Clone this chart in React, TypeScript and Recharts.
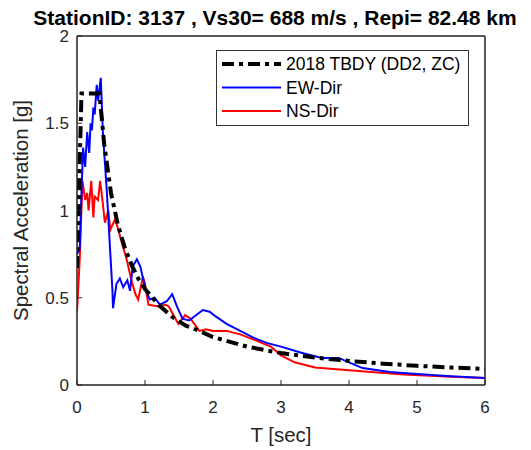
import { CartesianGrid, Line, LineChart, ReferenceArea, XAxis, YAxis } from "recharts";

const title = "StationID: 3137 , Vs30= 688 m/s , Repi= 82.48 km";
const xTicks = [0, 1, 2, 3, 4, 5, 6];
const yTicks = [0, 0.5, 1, 1.5, 2];

// 2018 TBDY (DD2, ZC) design spectrum
const tbdyT = [0, 0.066, 0.33, 0.4, 0.5, 0.6, 0.7, 0.8, 0.9, 1.0, 1.2, 1.4, 1.6, 1.8, 2.0, 2.5, 3.0, 3.5, 4.0, 4.5, 5.0, 5.5, 6.0];
const tbdySa = [0.67, 1.67, 1.67, 1.38, 1.1, 0.92, 0.79, 0.69, 0.61, 0.55, 0.46, 0.39, 0.34, 0.31, 0.275, 0.22, 0.183, 0.157, 0.138, 0.122, 0.11, 0.1, 0.092];

const ewT = [0, 0.04, 0.07, 0.09, 0.12, 0.15, 0.18, 0.2, 0.22, 0.24, 0.26, 0.29, 0.31, 0.35, 0.38, 0.44, 0.48, 0.52, 0.53, 0.58, 0.63, 0.68, 0.74, 0.78, 0.82, 0.88, 0.93, 1.0, 1.07, 1.14, 1.22, 1.32, 1.4, 1.47, 1.55, 1.65, 1.75, 1.85, 1.95, 2.05, 2.2, 2.4, 2.6, 2.8, 3.0, 3.3, 3.6, 3.85, 4.0, 4.2, 4.6, 5.0, 5.5, 6.0];
const ewSa = [0.75, 0.78, 1.15, 1.36, 1.25, 1.45, 1.33, 1.5, 1.46, 1.59, 1.55, 1.72, 1.63, 1.76, 1.45, 1.1, 0.82, 0.55, 0.44, 0.58, 0.61, 0.56, 0.6, 0.54, 0.68, 0.72, 0.68, 0.56, 0.49, 0.5, 0.46, 0.48, 0.52, 0.45, 0.38, 0.37, 0.4, 0.43, 0.42, 0.39, 0.35, 0.31, 0.27, 0.24, 0.22, 0.185, 0.155, 0.155, 0.13, 0.097, 0.075, 0.063, 0.05, 0.04];

const nsT = [0, 0.04, 0.08, 0.12, 0.15, 0.17, 0.21, 0.24, 0.26, 0.31, 0.34, 0.38, 0.41, 0.46, 0.49, 0.56, 0.6, 0.67, 0.73, 0.8, 0.86, 0.9, 0.97, 1.0, 1.05, 1.2, 1.3, 1.35, 1.42, 1.49, 1.59, 1.67, 1.8, 1.9, 2.0, 2.2, 2.4, 2.6, 2.85, 3.0, 3.2, 3.5, 4.0, 4.8, 5.5, 6.0];
const nsSa = [0.42, 0.72, 1.17, 1.06, 1.1, 1.0, 1.17, 0.96, 1.08, 1.06, 1.17, 1.04, 0.93, 1.0, 0.89, 0.95, 0.9, 0.8, 0.72, 0.6, 0.52, 0.49, 0.62, 0.58, 0.46, 0.45, 0.46, 0.45, 0.4, 0.35, 0.4, 0.38, 0.31, 0.32, 0.31, 0.31, 0.29, 0.26, 0.22, 0.17, 0.13, 0.1, 0.085, 0.06, 0.047, 0.04];

const toRows = (t: number[], sa: number[]) => t.map((T, i) => ({ T, Sa: sa[i] }));

const font = "'Liberation Sans', Arial, sans-serif";
const ink = "#262626";
const DASH = "12 5 4 5";

function LegendBox() {
    const items = [
        { name: "2018 TBDY (DD2, ZC)", color: "#000", width: 4, dash: DASH },
        { name: "EW-Dir", color: "#0000ff", width: 2, dash: undefined },
        { name: "NS-Dir", color: "#ff0000", width: 2, dash: undefined },
    ];
    return (
        <svg width={254} height={77} style={{ position: "absolute", left: 216, top: 50 }}>
            <rect x={0.5} y={0.5} width={252} height={75} fill="#fff" stroke="#333" strokeWidth={1} />
            {items.map((it, i) => (
                <g key={it.name}>
                    <line x1={6} x2={65} y1={14 + i * 23.5} y2={14 + i * 23.5} stroke={it.color} strokeWidth={it.width} strokeDasharray={it.dash} />
                    <text x={70} y={20 + i * 23.5} fontSize={17.5} fontFamily={font} fill="#000">{it.name}</text>
                </g>
            ))}
        </svg>
    );
}

export default function App() {
    return (
        <div style={{ position: "absolute", left: 0, top: 0, width: 531, height: 450, background: "#fff" }}>
            <div style={{ position: "absolute", left: 0, width: 550, top: 6, textAlign: "center", fontFamily: font, fontWeight: "bold", fontSize: 21, lineHeight: "24px", color: "#000" }}>
                {title}
            </div>
            <LineChart width={531} height={450} margin={{ top: 35, right: 45, left: 17, bottom: 35 }}>
                <CartesianGrid stroke="#e3e3e3" strokeWidth={1} />
                <XAxis
                    xAxisId="b"
                    type="number"
                    dataKey="T"
                    domain={[0, 6]}
                    ticks={xTicks}
                    allowDataOverflow
                    height={30}
                    stroke={ink}
                    tickSize={-5}
                    tickMargin={21}
                    tick={{ fontSize: 17, fill: ink, fontFamily: font }}
                    label={{ value: "T [sec]", position: "insideBottom", offset: -27, fontSize: 20.5, fill: ink, fontFamily: font }}
                />
                <XAxis xAxisId="t" orientation="top" type="number" dataKey="T" domain={[0, 6]} ticks={xTicks} allowDataOverflow height={1} stroke={ink} tickSize={-5} tick={false} />
                <YAxis
                    yAxisId="l"
                    type="number"
                    domain={[0, 2]}
                    ticks={yTicks}
                    allowDataOverflow
                    width={60}
                    stroke={ink}
                    tickSize={-5}
                    tickMargin={13}
                    tick={{ fontSize: 17, fill: ink, fontFamily: font }}
                    label={{ value: "Spectral Acceleration [g]", angle: -90, position: "insideLeft", offset: 4, style: { textAnchor: "middle" }, fontSize: 20.5, fill: ink, fontFamily: font }}
                />
                <YAxis yAxisId="r" orientation="right" type="number" domain={[0, 2]} ticks={yTicks} allowDataOverflow width={1} stroke={ink} tickSize={-5} tick={false} />
                <ReferenceArea xAxisId="b" yAxisId="l" x1={0} x2={6} y1={0} y2={2} fill="none" stroke={ink} strokeWidth={1} ifOverflow="visible" />
                <Line xAxisId="b" yAxisId="l" data={toRows(nsT, nsSa)} dataKey="Sa" name="NS-Dir" type="linear" stroke="#ff0000" strokeWidth={2} dot={false} isAnimationActive={false} />
                <Line xAxisId="b" yAxisId="l" data={toRows(ewT, ewSa)} dataKey="Sa" name="EW-Dir" type="linear" stroke="#0000ff" strokeWidth={2} dot={false} isAnimationActive={false} />
                <Line xAxisId="b" yAxisId="l" data={toRows(tbdyT, tbdySa)} dataKey="Sa" name="2018 TBDY (DD2, ZC)" type="linear" stroke="#000" strokeWidth={4} strokeDasharray={DASH} dot={false} isAnimationActive={false} />
            </LineChart>
            <LegendBox />
        </div>
    );
}
